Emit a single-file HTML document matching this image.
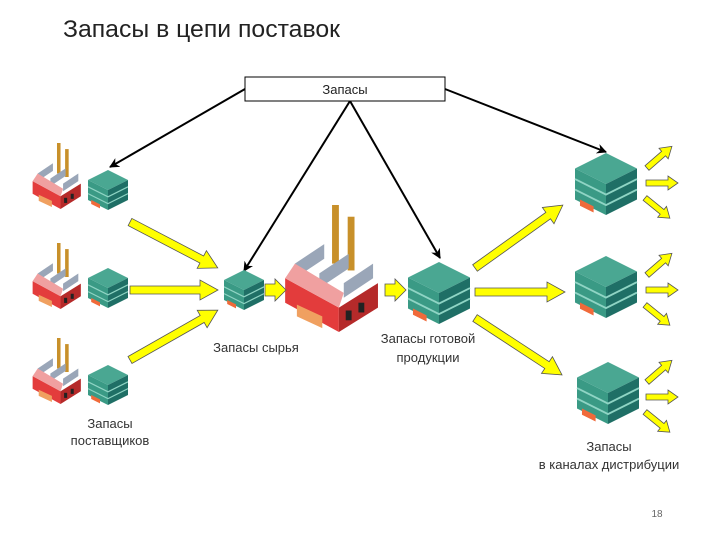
<!DOCTYPE html>
<html><head><meta charset="utf-8"><style>
body{margin:0;background:#fff}
svg{display:block}
text{font-family:"Liberation Sans",sans-serif}
</style></head><body>
<svg width="720" height="540" viewBox="0 0 720 540" xmlns="http://www.w3.org/2000/svg">
<defs>
<marker id="ah" markerWidth="10" markerHeight="10" refX="9" refY="5" orient="auto" markerUnits="userSpaceOnUse" viewBox="0 0 10 10">
<path d="M0,0 L10,5 L0,10 L3,5 z" fill="#000"/></marker>
<symbol id="wh" viewBox="0 0 100 100">
<polygon points="0,25 50,0 100,25 50,50" fill="#4aa792"/>
<polygon points="0,25 50,50 50,100 0,75" fill="#3a9a85"/>
<polygon points="50,50 100,25 100,75 50,100" fill="#1f6f66"/>
<polyline points="0,42 50,67 100,42" fill="none" stroke="#8fd4c4" stroke-width="3"/>
<polyline points="0,59 50,84 100,59" fill="none" stroke="#8fd4c4" stroke-width="3"/>
<polygon points="8,75 30,86 30,96 8,85" fill="#f06a3a"/>
</symbol>
<symbol id="fac" viewBox="0 0 100 130">
<rect x="48" y="0" width="7" height="60" fill="#c8902a"/>
<rect x="64" y="12" width="7" height="55" fill="#c8902a"/>
<polygon points="10,60 40,40 40,55 10,75" fill="#9aa6b8"/>
<polygon points="35,70 65,50 65,65 35,85" fill="#9aa6b8"/>
<polygon points="60,80 90,60 90,75 60,95" fill="#9aa6b8"/>
<polygon points="0,75 55,105 55,130 0,100" fill="#e33c3c"/>
<polygon points="55,105 95,80 95,105 55,130" fill="#b52a2a"/>
<polygon points="0,75 10,60 60,90 55,105" fill="#f0a0a0"/>
<rect x="62" y="108" width="6" height="10" fill="#222"/>
<rect x="75" y="100" width="6" height="10" fill="#222"/>
<polygon points="12,102 38,114 38,126 12,114" fill="#f0a060"/>
</symbol>
</defs>
<text x="63" y="37" font-size="24" fill="#222" textLength="277" lengthAdjust="spacingAndGlyphs">Запасы в цепи поставок</text>
<rect x="245" y="77" width="200" height="24" fill="#fff" stroke="#000" stroke-width="1"/>
<text x="345" y="94" font-size="13" text-anchor="middle" fill="#222">Запасы</text>
<g stroke="#000" stroke-width="2" fill="none" marker-end="url(#ah)">
<line x1="245" y1="89" x2="110" y2="167"/>
<line x1="350" y1="101" x2="244" y2="271"/>
<line x1="350" y1="101" x2="440" y2="258"/>
<line x1="445" y1="89" x2="606" y2="152"/>
</g>
<use href="#fac" x="32" y="143" width="52" height="66"/>
<use href="#fac" x="32" y="243" width="52" height="66"/>
<use href="#fac" x="32" y="338" width="52" height="66"/>
<use href="#fac" x="284" y="205" width="100" height="127"/>
<use href="#wh" x="88" y="170" width="40" height="40"/>
<use href="#wh" x="88" y="268" width="40" height="40"/>
<use href="#wh" x="88" y="365" width="40" height="40"/>
<use href="#wh" x="224" y="270" width="40" height="40"/>
<use href="#wh" x="406" y="262" width="66" height="62"/>
<use href="#wh" x="573" y="153" width="66" height="62"/>
<use href="#wh" x="573" y="256" width="66" height="62"/>
<use href="#wh" x="575" y="362" width="66" height="62"/>
<g fill="#ffff00" stroke="#555" stroke-width="0.8">
<g transform="translate(130,222) rotate(27.6)"><polygon points="0,-4 81,-4 81,-10 99,0 81,10 81,4 0,4"/></g>
<g transform="translate(130,290)"><polygon points="0,-4 70,-4 70,-10 88,0 70,10 70,4 0,4"/></g>
<g transform="translate(130,360) rotate(-29.6)"><polygon points="0,-4 83,-4 83,-10 101,0 83,10 83,4 0,4"/></g>
<g transform="translate(265,290)"><polygon points="0,-6 10,-6 10,-11 21,0 10,11 10,6 0,6"/></g>
<g transform="translate(385,290)"><polygon points="0,-6 10,-6 10,-11 21,0 10,11 10,6 0,6"/></g>
<g transform="translate(475,268) rotate(-35.6)"><polygon points="0,-4 90,-4 90,-10 108,0 90,10 90,4 0,4"/></g>
<g transform="translate(475,292)"><polygon points="0,-4 72,-4 72,-10 90,0 72,10 72,4 0,4"/></g>
<g transform="translate(475,318) rotate(33.2)"><polygon points="0,-4 86,-4 86,-10 104,0 86,10 86,4 0,4"/></g>
<g id="sm">
<g transform="translate(647,168) rotate(-41)"><polygon points="0,-3 22,-3 22,-7 33,0 22,7 22,3 0,3"/></g>
<g transform="translate(646,183)"><polygon points="0,-3 22,-3 22,-7 32,0 22,7 22,3 0,3"/></g>
<g transform="translate(645,198) rotate(39)"><polygon points="0,-3 22,-3 22,-7 32,0 22,7 22,3 0,3"/></g>
</g>
<use href="#sm" y="107"/>
<use href="#sm" y="214"/>
</g>
<g font-size="13" fill="#333" text-anchor="middle">
<text x="256" y="352">Запасы сырья</text>
<text x="428" y="343">Запасы готовой</text>
<text x="428" y="362">продукции</text>
<text x="110" y="428">Запасы</text>
<text x="110" y="445">поставщиков</text>
<text x="609" y="451">Запасы</text>
<text x="609" y="469">в каналах дистрибуции</text>
<text x="657" y="517" font-size="10" fill="#666">18</text>
</g>
</svg>
</body></html>
